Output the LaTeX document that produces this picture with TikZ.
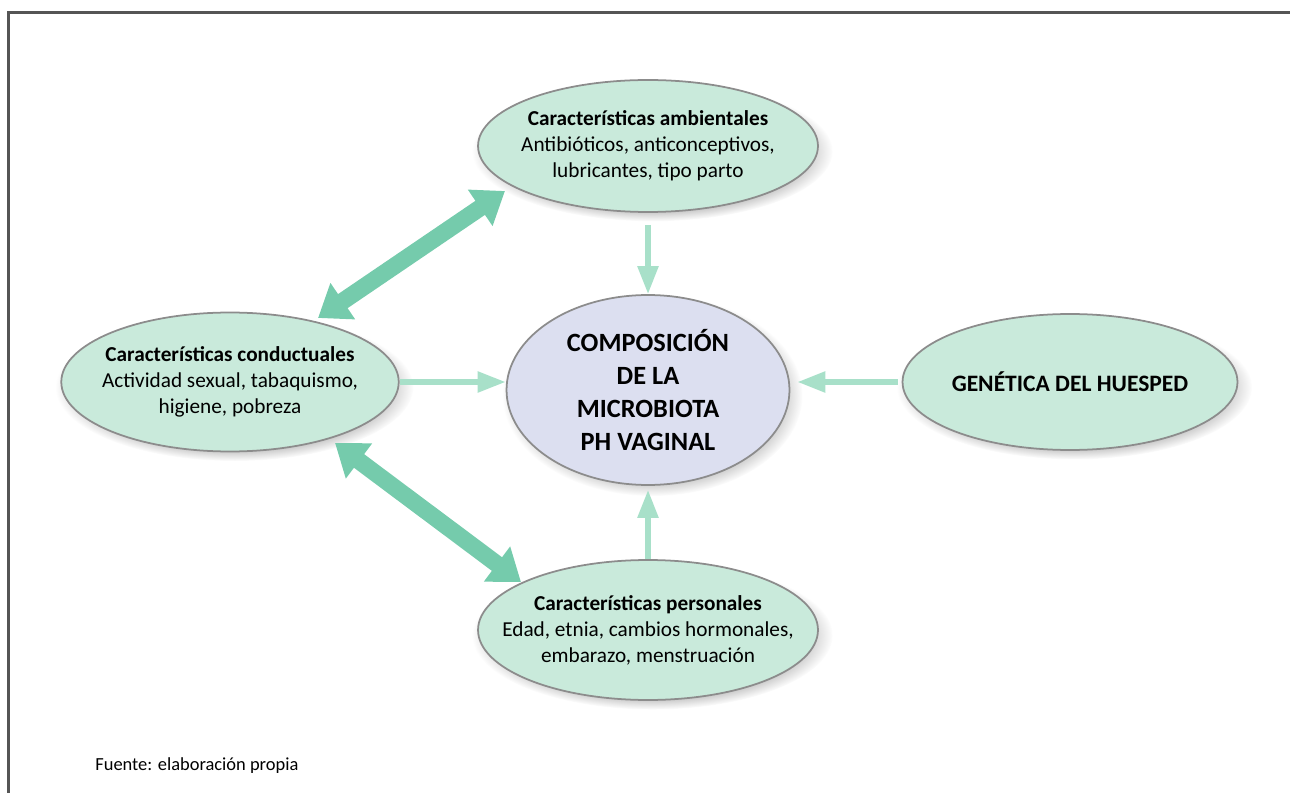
\documentclass[tikz,border=0pt]{standalone}
\usepackage{fontspec}
\setmainfont{Carlito}
\usepackage{tikz}
\usetikzlibrary{shapes.geometric,arrows.meta,shadows}
\definecolor{ovalcolor}{HTML}{C9EADB}
\definecolor{centercolor}{HTML}{DCDFF0}
\definecolor{edgecolor}{HTML}{8C8C8C}
\definecolor{thincolor}{HTML}{A8E0C9}
\definecolor{thickcolor}{HTML}{75CBAC}
\definecolor{framecolor}{HTML}{555555}

\tikzset{
  oval/.style={draw=edgecolor, line width=1pt, ellipse, fill=ovalcolor,
    inner xsep=-1.2cm, inner ysep=-0.4cm,
    minimum width=6.75cm, minimum height=2.72cm, align=center,
    font=\fontsize{12.1}{14.8}\selectfont,
    circular drop shadow={shadow xshift=0.5ex, shadow yshift=-0.6ex, opacity=0.45, shadow scale=1.06}},
  centeroval/.style={oval, fill=centercolor, minimum width=5.66cm, minimum height=3.8cm,
    font=\fontsize{15}{18.8}\selectfont\bfseries},
  thinarrow/.style={thincolor, line width=0.11cm, -{Triangle[width=0.4cm, length=0.56cm]}},
  thickarrow/.style={thickcolor, line width=0.34cm,
    {Triangle[width=0.84cm, length=0.6cm]}-{Triangle[width=0.84cm, length=0.6cm]}}
}

\begin{document}
\begin{tikzpicture}[x=0.02cm, y=-0.02cm]%
\useasboundingbox (0,0) rectangle (1290,793);%
\draw[framecolor, line width=1.3pt] (8.5,793) -- (8.5,12.5) -- (1290,12.5);%
\node[oval, minimum width=6.8cm, minimum height=2.64cm] (ambient) at (648,146) {\textbf{Características ambientales}\\Antibióticos, anticonceptivos,\\lubricantes, tipo parto};%
\node[oval, minimum height=2.78cm] (conduct) at (230,382) {\textbf{Características conductuales}\\Actividad sexual, tabaquismo,\\higiene, pobreza};%
\node[centeroval] (micro) at (648,390) {COMPOSICIÓN\\DE LA\\MICROBIOTA\\PH VAGINAL};%
\node[oval, minimum width=6.7cm, font=\fontsize{13.4}{16}\selectfont\bfseries] (genetic) at (1070,382) {GENÉTICA DEL HUESPED};%
\node[oval, minimum width=6.8cm, minimum height=2.8cm] (personal) at (648,630) {\textbf{Características personales}\\Edad, etnia, cambios hormonales,\\embarazo, menstruación};%
\node[anchor=west, inner sep=0pt, font=\fontsize{10.5}{12}\selectfont] (source) at (95,766) {Fuente: elaboración propia};%
% thin arrows into the center
\draw[thinarrow, shorten <=0.24cm] (ambient.south) -- (ambient.south |- micro.north);%
\draw[thinarrow] (conduct.east) -- (conduct.east -| micro.west);%
\draw[thinarrow, shorten <=0.08cm, shorten >=0.14cm] (genetic.west) -- (genetic.west -| micro.east);%
\draw[thinarrow, shorten >=0.08cm] (personal.north) -- (micro.south);%
% thick two-way arrows
\coordinate (c1) at (318,318);%
\coordinate (c2) at (505,191);%
\coordinate (c3) at (335,443);%
\coordinate (c4) at (521,582);%
\draw[thickarrow] (c1) -- (c2);%
\draw[thickarrow] (c3) -- (c4);%
\end{tikzpicture}
\end{document}
